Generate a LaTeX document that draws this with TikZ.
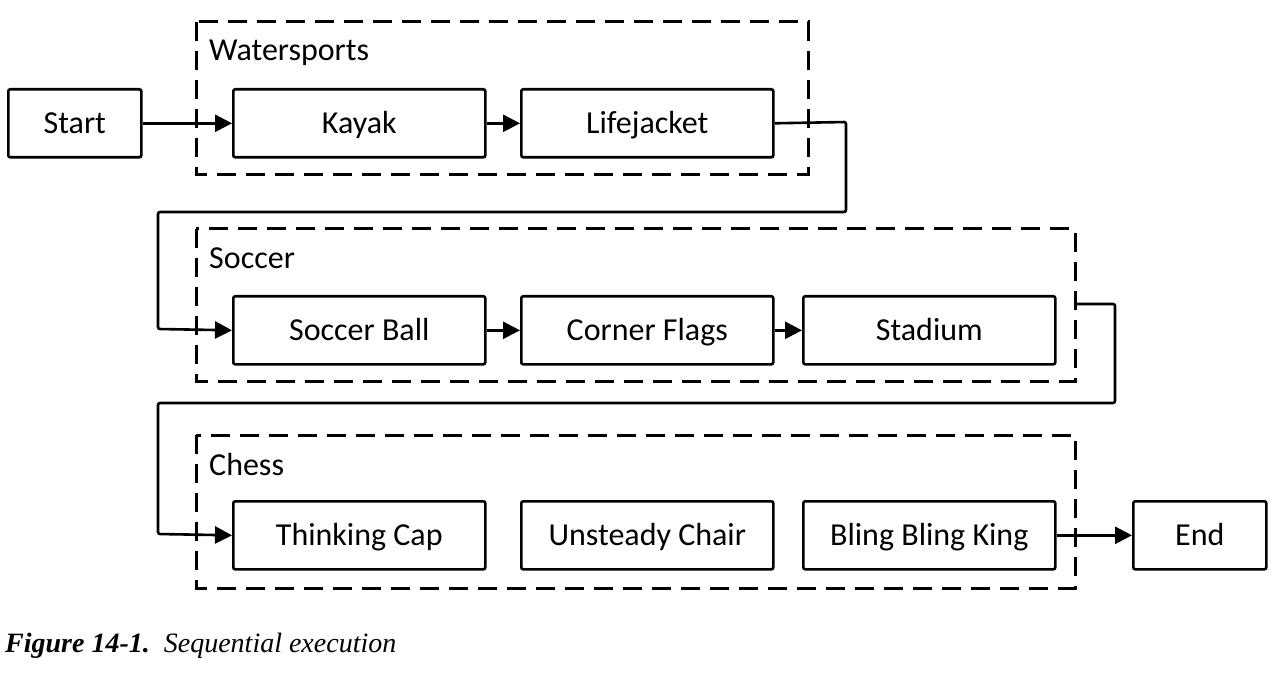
\documentclass[tikz,border=0pt]{standalone}
\usepackage{fontspec}
\setmainfont{Carlito}
\newfontfamily\capfont{Liberation Serif}
\usetikzlibrary{arrows.meta}
\begin{document}
\begin{tikzpicture}[x=1pt,y=-1pt,
  box/.style={draw, line width=2.6pt, rounded corners=2pt, minimum width=252pt, minimum height=68pt, inner sep=0pt, text height=21pt, text depth=0pt, font=\fontsize{32}{38}\selectfont, anchor=north west},
  term/.style={box, minimum width=133pt},
  grp/.style={draw, line width=3pt, dash pattern=on 19pt off 10pt},
  glabel/.style={anchor=base west, inner sep=0pt, font=\fontsize{32}{38}\selectfont},
  conn/.style={line width=2.6pt, -{Triangle[length=17pt,width=17pt]}},
  plain/.style={line width=2.6pt}]
\useasboundingbox (0,0) rectangle (1285,676);
\fill[white] (0,0) rectangle (1285,676);
% groups
\draw[grp] (196,22) rectangle (808,175);
\draw[grp] (196,229) rectangle (1075,381);
\draw[grp] (196,435) rectangle (1075,588);
\node[glabel] (lw) at (209,61) {Watersports};
\node[glabel] (ls) at (209,269) {Soccer};
\node[glabel] (lc) at (209,475) {Chess};
% boxes
\node[term] (start) at (7,88) {Start};
\node[box] (kayak) at (232,88) {Kayak};
\node[box] (life) at (520,88) {Lifejacket};
\node[box] (ball) at (232,295) {Soccer Ball};
\node[box] (flags) at (520,295) {Corner Flags};
\node[box] (stad) at (802,295) {Stadium};
\node[box] (cap) at (232,500) {Thinking Cap};
\node[box] (chair) at (520,500) {Unsteady Chair};
\node[box] (king) at (802,500) {Bling Bling King};
\node[term] (end) at (1132,500) {End};
\coordinate (sexit) at (1076,304);
% connectors
\draw[conn] (start) -- (kayak);
\draw[conn] (kayak) -- (life);
\draw[conn, rounded corners=2pt] (life.east) -- (846,122) -- (846,212) -- (158,212) -- (158,329) -- (ball.west);
\draw[conn] (ball) -- (flags);
\draw[conn] (flags) -- (stad);
\draw[conn, rounded corners=2pt] (sexit) -- (1115,304) -- (1115,403) -- (158,403) -- (158,534) -- (cap.west);
\draw[conn] (king) -- (end);
% caption
\node[anchor=base west, inner sep=0pt, font=\capfont\fontsize{28}{32}\selectfont] (caption) at (5,652) {\textbf{\textit{Figure 14-1.}}\hspace{14pt}\textit{Sequential execution}};
\end{tikzpicture}
\end{document}
